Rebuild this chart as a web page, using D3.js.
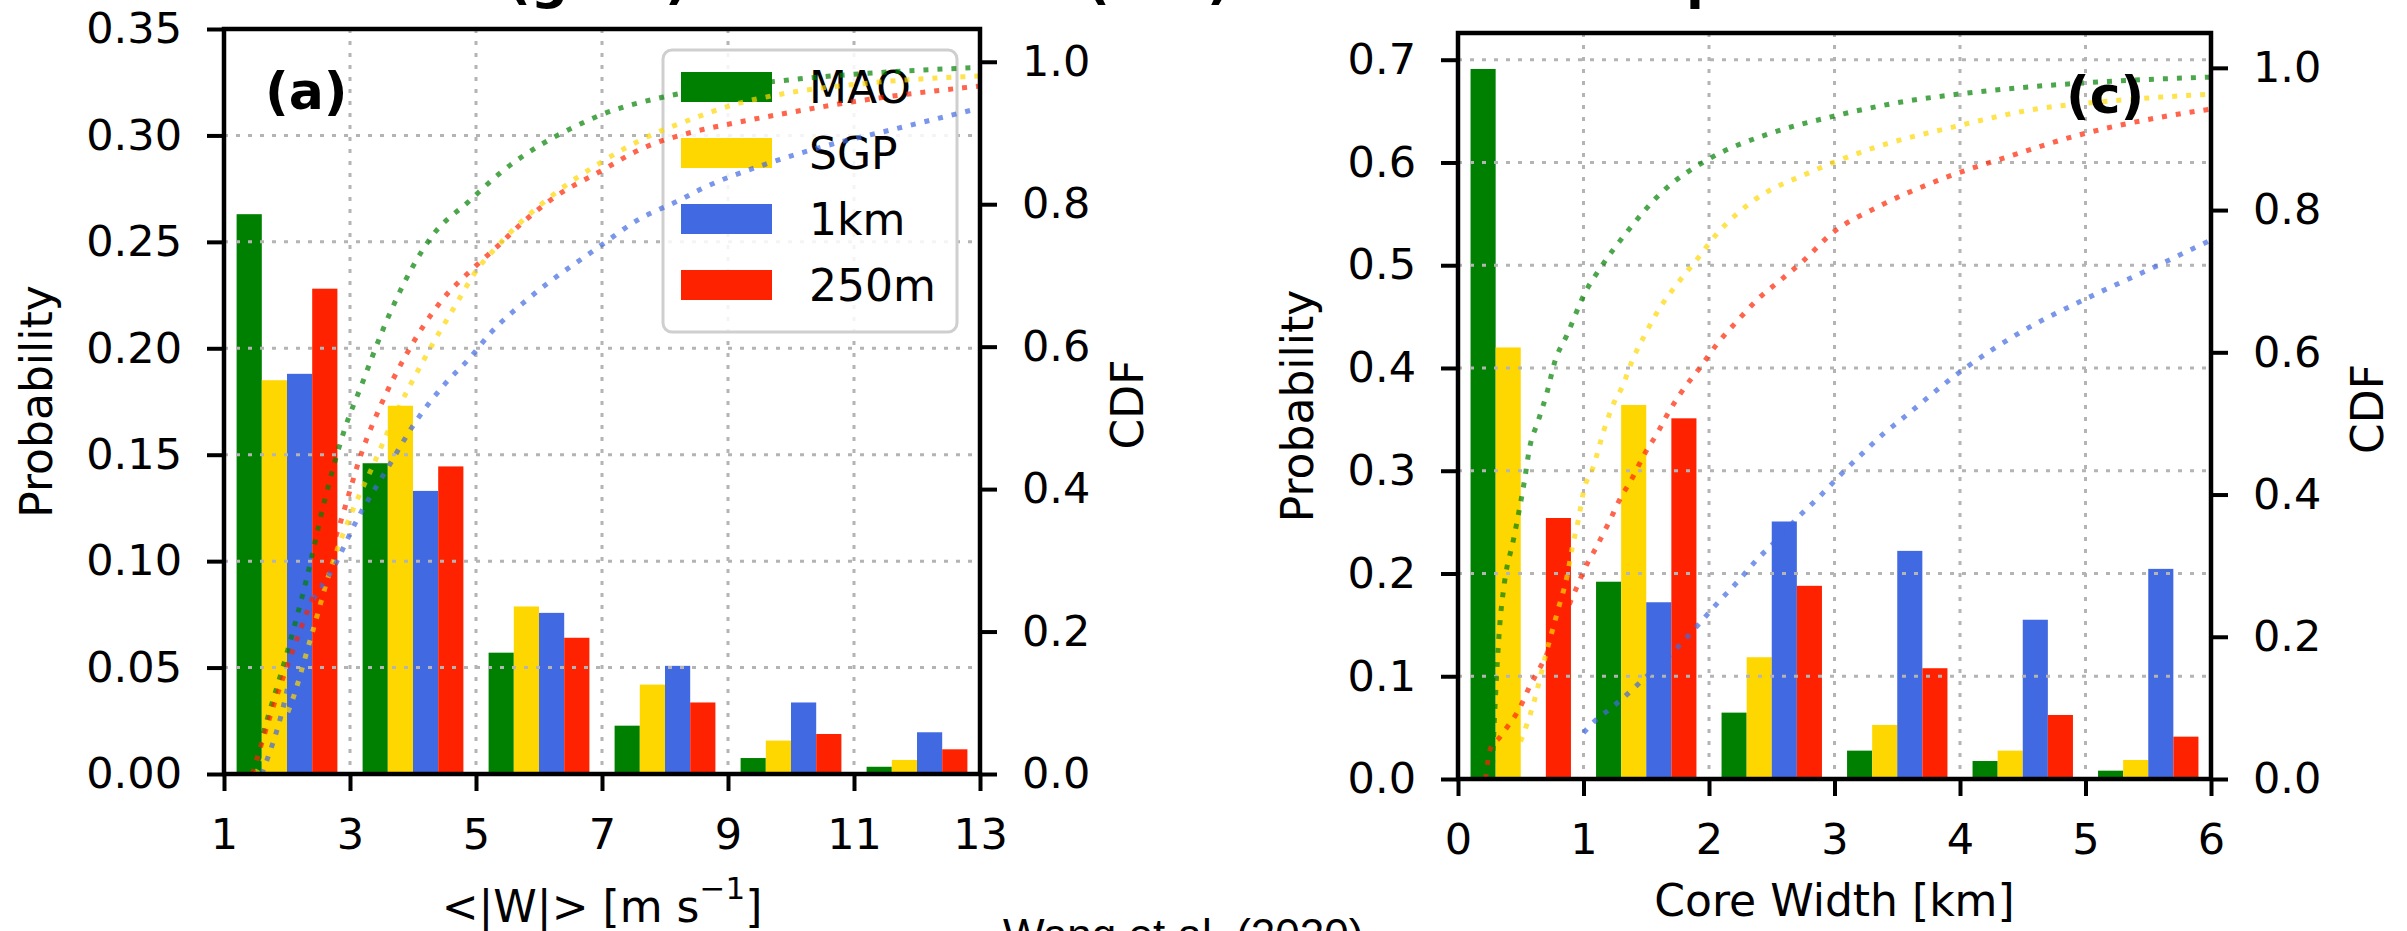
<!DOCTYPE html>
<html>
<head>
<meta charset="utf-8">
<script src="https://cdn.jsdelivr.net/npm/d3@7"></script>
<style>
  body { margin: 0; background: #fff; }
  svg text { font-family: "DejaVu Sans", sans-serif; }
</style>
</head>
<body>
<div id="chart"></div>
<script>
(function () {
  // series shared by both panels
  const series = ["MAO", "SGP", "1km", "250m"];
  const colors = ["#008000", "#ffd700", "#4169e1", "#ff2200"];

  // (a) mean |W| histogram, bins of 2 m/s starting at these edges
  const wBins = [1, 3, 5, 7, 9, 11];
  const wMAO = [0.263, 0.146, 0.057, 0.0227, 0.0075, 0.0034];
  const wSGP = [0.185, 0.173, 0.0787, 0.042, 0.0157, 0.0066];
  const w1km = [0.188, 0.133, 0.0757, 0.0508, 0.0336, 0.0196];
  const w250 = [0.228, 0.1445, 0.064, 0.0336, 0.0188, 0.0116];
  const wTicks = [1, 3, 5, 7, 9, 11, 13];
  const wProbTicks = [0, 0.05, 0.1, 0.15, 0.2, 0.25, 0.3, 0.35];

  // (a) CDF curves [x, cdf]
  const wCdfMAO = [[1.45, 0], [1.6, 0.05], [2.0, 0.17], [2.3, 0.27], [2.6, 0.385], [2.9, 0.48], [3.2, 0.55],
    [3.5, 0.619], [3.7, 0.66], [4.3, 0.755], [4.9, 0.805], [5.4, 0.845], [6.0, 0.882], [6.5, 0.906],
    [7.0, 0.926], [8.0, 0.951], [9.6, 0.971], [11.6, 0.986], [13, 0.992]];
  const wCdfSGP = [[1.5, 0], [1.75, 0.04], [2.05, 0.095], [2.4, 0.198], [2.7, 0.29], [3.05, 0.372], [3.35, 0.43],
    [3.75, 0.51], [4.15, 0.578], [4.7, 0.662], [5.0, 0.706], [5.35, 0.742], [5.75, 0.778], [6.25, 0.815],
    [6.97, 0.858], [7.68, 0.893], [8.38, 0.918], [9.1, 0.94], [9.81, 0.954], [11.22, 0.97], [13, 0.98]];
  const wCdf1km = [[1.6, 0], [1.9, 0.08], [2.2, 0.195], [2.8, 0.3], [3.1, 0.355], [3.6, 0.43], [4.03, 0.493],
    [4.52, 0.549], [4.89, 0.583], [5.24, 0.62], [5.84, 0.668], [6.95, 0.74], [7.57, 0.778], [8.24, 0.806],
    [8.59, 0.822], [9.59, 0.856], [10.6, 0.883], [11.62, 0.905], [13, 0.935]];
  const wCdf250 = [[1.45, 0], [1.75, 0.086], [2.2, 0.2], [2.8, 0.34], [3.2, 0.455], [3.5, 0.52], [3.9, 0.59],
    [4.43, 0.662], [4.98, 0.712], [5.33, 0.74], [5.75, 0.775], [6.25, 0.81], [6.97, 0.846], [7.68, 0.88],
    [8.38, 0.9], [9.1, 0.914], [9.81, 0.926], [11.22, 0.947], [13, 0.966]];

  // (c) core width histogram, bins of 1 km
  const cwBins = [0, 1, 2, 3, 4, 5];
  const cwMAO = [0.691, 0.192, 0.0646, 0.0276, 0.0175, 0.0081];
  const cwSGP = [0.42, 0.364, 0.1185, 0.0526, 0.0276, 0.0185];
  const cw1km = [0, 0.172, 0.2506, 0.222, 0.155, 0.2045];
  const cw250 = [0.254, 0.351, 0.188, 0.1078, 0.0623, 0.0412];
  const cwTicks = [0, 1, 2, 3, 4, 5, 6];
  const cwProbTicks = [0, 0.1, 0.2, 0.3, 0.4, 0.5, 0.6, 0.7];

  const cwCdfMAO = [[0.27, 0], [0.3, 0.12], [0.33, 0.21], [0.37, 0.276], [0.44, 0.335], [0.49, 0.38], [0.53, 0.42],
    [0.57, 0.465], [0.64, 0.504], [0.71, 0.544], [0.77, 0.586], [0.87, 0.625], [1.01, 0.683], [1.14, 0.72],
    [1.35, 0.77], [1.63, 0.826], [2.0, 0.872], [2.49, 0.908], [2.97, 0.931], [3.47, 0.95], [4.08, 0.965],
    [5.0, 0.979], [6.0, 0.987]];
  const cwCdfSGP = [[0.35, 0], [0.51, 0.058], [0.6, 0.105], [0.7, 0.175], [0.8, 0.24], [0.87, 0.286], [0.91, 0.325],
    [0.96, 0.365], [1.0, 0.404], [1.08, 0.44], [1.16, 0.489], [1.24, 0.528], [1.31, 0.552], [1.39, 0.589],
    [1.49, 0.625], [1.61, 0.663], [1.75, 0.697], [1.91, 0.732], [2.06, 0.766], [2.36, 0.814], [2.79, 0.852],
    [3.34, 0.889], [3.95, 0.917], [4.57, 0.941], [5.31, 0.955], [6.0, 0.963]];
  const cwCdf1km = [[1.0, 0.065], [1.1, 0.083], [1.2, 0.097], [1.29, 0.11], [1.47, 0.139], [1.72, 0.18], [1.9, 0.214],
    [2.06, 0.246], [2.22, 0.276], [2.38, 0.308], [2.55, 0.338], [2.71, 0.368], [2.88, 0.397], [3.06, 0.43],
    [3.23, 0.459], [3.4, 0.487], [3.5, 0.501], [4.02, 0.575], [4.5, 0.63], [5.0, 0.675], [5.55, 0.72], [6.0, 0.758]];
  const cwCdf250 = [[0.22, 0], [0.255, 0.041], [0.33, 0.058], [0.4, 0.075], [0.47, 0.093], [0.52, 0.11], [0.57, 0.13],
    [0.63, 0.149], [0.69, 0.169], [0.78, 0.205], [0.88, 0.243], [0.93, 0.263], [1.03, 0.303], [1.09, 0.322],
    [1.2, 0.36], [1.31, 0.4], [1.37, 0.417], [1.48, 0.455], [1.6, 0.49], [1.66, 0.51], [1.78, 0.544],
    [1.93, 0.579], [2.07, 0.613], [2.23, 0.645], [2.39, 0.675], [2.58, 0.703], [2.76, 0.73], [2.97, 0.766],
    [3.34, 0.804], [3.83, 0.842], [4.38, 0.875], [5.0, 0.908], [5.61, 0.931], [6.0, 0.942]];

  const cdfTicks = [0, 0.2, 0.4, 0.6, 0.8, 1.0];

  const width = 2407, height = 931;
  const fontSize = 43;

  const svg = d3.select("#chart").append("svg").attr("width", width).attr("height", height);

  const panels = [
    {
      id: "a", box: { x0: 224, x1: 980, y0: 29, y1: 774 },
      xDomain: [1, 13], xTicks: wTicks, yDomain: [0, 0.35], yTicks: wProbTicks, yFmt: ".2f",
      cdfDomain: [0, 1.046], bins: wBins, binWidth: 2,
      values: [wMAO, wSGP, w1km, w250], cdfs: [wCdfMAO, wCdfSGP, wCdf1km, wCdf250],
      tag: "(a)", tagX: 265, tagY: 109, legend: true,
      yLabelX: 52, cdfLabelX: 1143, xLabelY: 922
    },
    {
      id: "c", box: { x0: 1458, x1: 2211, y0: 33, y1: 779 },
      xDomain: [0, 6], xTicks: cwTicks, yDomain: [0, 0.726], yTicks: cwProbTicks, yFmt: ".1f",
      cdfDomain: [0, 1.049], bins: cwBins, binWidth: 1,
      values: [cwMAO, cwSGP, cw1km, cw250], cdfs: [cwCdfMAO, cwCdfSGP, cwCdf1km, cwCdf250],
      tag: "(c)", tagX: 2066, tagY: 113, legend: false,
      yLabelX: 1313, cdfLabelX: 2383, xLabelY: 916
    }
  ];

  function styleAxis(sel) {
    sel.select(".domain").remove();
    sel.selectAll(".tick line").attr("stroke", "#000").attr("stroke-width", 4);
    sel.selectAll(".tick text").attr("font-size", fontSize + "px").attr("fill", "#000");
  }

  function drawPanel(p) {
    const b = p.box;
    const x = d3.scaleLinear().domain(p.xDomain).range([b.x0, b.x1]);
    const y = d3.scaleLinear().domain(p.yDomain).range([b.y1, b.y0]);
    const yc = d3.scaleLinear().domain(p.cdfDomain).range([b.y1, b.y0]);
    const inner = d3.scaleBand()
      .domain(series)
      .range([0, x(p.bins[0] + p.binWidth) - x(p.bins[0])])
      .paddingInner(0)
      .paddingOuter(0.5);

    svg.append("clipPath").attr("id", "clip-" + p.id)
      .append("rect").attr("x", b.x0).attr("y", b.y0).attr("width", b.x1 - b.x0).attr("height", b.y1 - b.y0);

    const plot = svg.append("g").attr("clip-path", `url(#clip-${p.id})`);

    // bars
    series.forEach((s, k) => {
      plot.append("g")
        .selectAll("rect")
        .data(p.values[k].map((v, i) => ({ start: p.bins[i], v: v })))
        .join("rect")
        .attr("x", (d) => x(d.start) + inner(s))
        .attr("width", inner.bandwidth())
        .attr("y", (d) => y(d.v))
        .attr("height", (d) => y(0) - y(d.v))
        .attr("fill", colors[k]);
    });

    // dotted grid, drawn above the bars like matplotlib does
    const grid = plot.append("g").attr("stroke", "#b4b4b4").attr("stroke-width", 3).attr("stroke-dasharray", "4 8");
    grid.selectAll(".vx")
      .data(p.xTicks.slice(1, -1))
      .join("line")
      .attr("x1", (d) => x(d)).attr("x2", (d) => x(d))
      .attr("y1", b.y0).attr("y2", b.y1);
    grid.selectAll(".hy")
      .data(p.yTicks.filter((t) => t > 0 && y(t) > b.y0 + 3))
      .join("line")
      .attr("y1", (d) => y(d)).attr("y2", (d) => y(d))
      .attr("x1", b.x0).attr("x2", b.x1);

    // legend (belongs to the bar axes, so CDF lines go over it)
    if (p.legend) {
      const lg = svg.append("g");
      lg.append("rect")
        .attr("x", 663).attr("y", 50).attr("width", 294).attr("height", 282).attr("rx", 9)
        .attr("fill", "#fff").attr("fill-opacity", 0.85)
        .attr("stroke", "#cfcfcf").attr("stroke-width", 3);
      const row = d3.scalePoint().domain(series).range([87, 285]);
      const item = lg.selectAll(".item").data(series).join("g")
        .attr("transform", (d) => `translate(681,${row(d)})`);
      item.append("rect")
        .attr("x", 0).attr("y", -15).attr("width", 91).attr("height", 30)
        .attr("fill", (d, i) => colors[i]);
      item.append("text")
        .attr("x", 128).attr("y", 16)
        .attr("font-size", "44px")
        .text((d) => d);
    }

    // CDF curves on the twin axis
    const line = d3.line()
      .x((d) => x(d[0]))
      .y((d) => yc(d[1]))
      .curve(d3.curveMonotoneX);
    const cdfG = svg.append("g").attr("clip-path", `url(#clip-${p.id})`);
    p.cdfs.forEach((c, k) => {
      cdfG.append("path")
        .attr("d", line(c))
        .attr("fill", "none")
        .attr("stroke", colors[k])
        .attr("stroke-opacity", 0.7)
        .attr("stroke-width", 5)
        .attr("stroke-dasharray", "5 9");
    });

    // axes
    svg.append("g")
      .attr("transform", `translate(0,${b.y1})`)
      .call(d3.axisBottom(x).tickValues(p.xTicks).tickSize(17).tickPadding(27).tickFormat(d3.format("d")))
      .call(styleAxis);
    svg.append("g")
      .attr("transform", `translate(${b.x0},0)`)
      .call(d3.axisLeft(y).tickValues(p.yTicks).tickSize(17).tickPadding(25).tickFormat(d3.format(p.yFmt)))
      .call(styleAxis);
    svg.append("g")
      .attr("transform", `translate(${b.x1},0)`)
      .call(d3.axisRight(yc).tickValues(cdfTicks).tickSize(17).tickPadding(25).tickFormat(d3.format(".1f")))
      .call(styleAxis);

    // spines
    svg.append("rect")
      .attr("x", b.x0).attr("y", b.y0).attr("width", b.x1 - b.x0).attr("height", b.y1 - b.y0)
      .attr("fill", "none").attr("stroke", "#000").attr("stroke-width", 4.5);

    // panel tag
    svg.append("text")
      .attr("x", p.tagX).attr("y", p.tagY)
      .attr("font-size", "52px").attr("font-weight", "bold")
      .text(p.tag);

    // axis labels
    const midY = (b.y0 + b.y1) / 2;
    svg.append("text")
      .attr("transform", `translate(${p.yLabelX},${midY}) rotate(-90)`)
      .attr("text-anchor", "middle").attr("font-size", "44px")
      .text("Probability");
    svg.append("text")
      .attr("transform", `translate(${p.cdfLabelX},${midY + 3}) rotate(-90)`)
      .attr("text-anchor", "middle").attr("font-size", "44px")
      .text("CDF");

    return { x: x, midX: (b.x0 + b.x1) / 2 };
  }

  const pa = drawPanel(panels[0]);
  const pc = drawPanel(panels[1]);

  // x labels
  const xla = svg.append("text")
    .attr("x", pa.midX).attr("y", panels[0].xLabelY)
    .attr("text-anchor", "middle").attr("font-size", "44px");
  xla.append("tspan").text("<|W|> [m s");
  xla.append("tspan").attr("font-size", "31px").attr("dy", "-0.75em").text("\u22121");
  xla.append("tspan").attr("dy", "0.52em").text("]");

  svg.append("text")
    .attr("x", pc.midX).attr("y", panels[1].xLabelY)
    .attr("text-anchor", "middle").attr("font-size", "44px")
    .text("Core Width [km]");

  // remnants of the cropped title line above the panels
  const titleBits = ["(g", ")", "(", ")", "p"];
  const titleX = [507, 665, 1086, 1207, 1686];
  svg.append("g")
    .selectAll("text")
    .data(titleBits)
    .join("text")
    .attr("x", (d, i) => titleX[i])
    .attr("y", -2)
    .attr("font-size", "52px")
    .attr("font-weight", "bold")
    .text((d) => d);

  // source note, cut by the bottom edge
  svg.append("text")
    .attr("x", 1003).attr("y", 950)
    .attr("font-size", "44px")
    .style("font-family", "'Liberation Sans', Arial, sans-serif")
    .text("Wang et al. (2020)");
})();
</script>
</body>
</html>
